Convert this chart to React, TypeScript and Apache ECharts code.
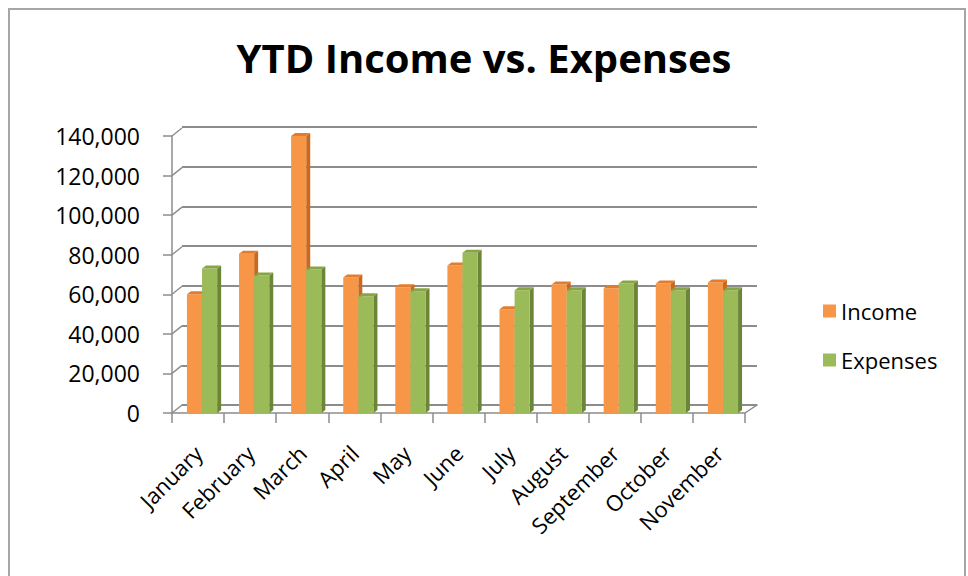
import React, { useEffect, useRef } from "react";
import * as echarts from "echarts";

const categories = [
  "January", "February", "March", "April", "May", "June",
  "July", "August", "September", "October", "November",
];
const income = [60000, 80500, 140000, 68500, 63500, 74500, 52500, 65000, 63000, 65500, 66000];
const expenses = [73000, 69500, 72500, 59000, 61500, 81000, 62000, 62000, 65500, 62000, 62000];
const yTicks = [0, 20000, 40000, 60000, 80000, 100000, 120000, 140000];

const FONT = "'Open Sans', sans-serif";
const GRID_LINE = "#8c8c8c";

const barFaces: Record<string, { front: string; side: string; top: string }> = {
  Income: { front: "#F79646", side: "#C9691F", top: "#E27C2E" },
  Expenses: { front: "#9BBB59", side: "#6B8636", top: "#87A546" },
};

function makeBarRender(name: string, slot: number) {
  const c = barFaces[name];
  return (params: any, api: any) => {
    const idx = api.value(0);
    const val = api.value(1);
    const [cx, cy] = api.coord([idx, val]);
    const [, y0] = api.coord([idx, 0]);
    const band = api.size([1, 0])[0];
    const w = band * 0.29;
    const x0 = cx + 4 - w + slot * w;
    const dx = 4;
    const dy = 3;
    return {
      type: "group",
      children: [
        {
          type: "polygon",
          shape: {
            points: [
              [x0 + w, cy],
              [x0 + w + dx, cy - dy],
              [x0 + w + dx, y0 - dy],
              [x0 + w, y0],
            ],
          },
          style: { fill: c.side },
        },
        {
          type: "rect",
          shape: { x: x0, y: cy, width: w, height: y0 - cy },
          style: { fill: c.front },
        },
        {
          type: "polygon",
          shape: {
            points: [
              [x0, cy],
              [x0 + dx, cy - dy],
              [x0 + w + dx, cy - dy],
              [x0 + w, cy],
            ],
          },
          style: { fill: c.top },
        },
      ],
    };
  };
}

function frameRender(params: any, api: any) {
  const v = api.value(1);
  const [x, y] = api.coord([0, v]);
  const band = api.size([1, 0])[0];
  const left = x - band / 2;
  const children: any[] = [
    {
      type: "line",
      shape: { x1: left, y1: y, x2: left + 10, y2: y - 8 },
      style: { stroke: GRID_LINE, lineWidth: 1.5 },
    },
  ];
  if (v === 0) {
    const right = left + band * categories.length;
    children.push({
      type: "line",
      shape: { x1: right, y1: y, x2: right + 12, y2: y - 8 },
      style: { stroke: GRID_LINE, lineWidth: 1.5 },
    });
  }
  return { type: "group", children };
}

export default function App() {
  const ref = useRef<HTMLDivElement>(null);

  useEffect(() => {
    if (!ref.current) return;
    const chart = echarts.init(ref.current, null, { renderer: "svg" });
    const option: any = {
      animation: false,
      backgroundColor: "#ffffff",
      color: ["#F79646", "#9BBB59"],
      title: {
        text: "YTD Income vs. Expenses",
        left: "center",
        top: 32,
        textStyle: {
          fontFamily: FONT,
          fontWeight: "bold",
          fontSize: 40,
          color: "#000000",
        },
      },
      legend: {
        data: ["Income", "Expenses"],
        orient: "vertical",
        left: 818,
        top: 294,
        itemWidth: 13,
        itemHeight: 13,
        itemGap: 25,
        icon: "rect",
        textStyle: { fontFamily: FONT, fontSize: 22, color: "#000000", lineHeight: 24 },
      },
      grid: [
        { left: 172, top: 136, width: 573, height: 277 },
        { left: 182, top: 127, width: 575, height: 278 },
      ],
      xAxis: [
        {
          type: "category",
          gridIndex: 0,
          data: categories,
          axisLine: { show: true, lineStyle: { color: GRID_LINE, width: 1.5 } },
          axisTick: { show: true, interval: 0, length: 10, alignWithLabel: false, lineStyle: { color: GRID_LINE, width: 1.5 } },
          axisLabel: {
            interval: 0,
            rotate: 45,
            margin: 36,
            fontFamily: FONT,
            fontSize: 22,
            color: "#000000",
          },
          splitLine: { show: false },
        },
        {
          type: "category",
          gridIndex: 1,
          data: categories,
          axisLine: { show: true, lineStyle: { color: GRID_LINE, width: 1.5 } },
          axisTick: { show: false },
          axisLabel: { show: false },
          splitLine: { show: false },
        },
      ],
      yAxis: [
        {
          type: "value",
          gridIndex: 0,
          min: 0,
          max: 140000,
          interval: 20000,
          axisLine: { show: true, lineStyle: { color: GRID_LINE, width: 1.5 } },
          axisTick: { show: true, length: 9, lineStyle: { color: GRID_LINE, width: 1.5 } },
          axisLabel: {
            margin: 32,
            fontFamily: FONT,
            fontSize: 23,
            color: "#000000",
            formatter: (v: number) => v.toLocaleString("en-US"),
          },
          splitLine: { show: false },
        },
        {
          type: "value",
          gridIndex: 1,
          min: 0,
          max: 140000,
          interval: 20000,
          axisLine: { show: false },
          axisTick: { show: false },
          axisLabel: { show: false },
          splitLine: { show: true, lineStyle: { color: GRID_LINE, width: 2 } },
        },
      ],
      graphic: [
        {
          type: "rect",
          shape: { x: 9, y: 9, width: 956, height: 620 },
          style: { fill: "none", stroke: "#a6a6a6", lineWidth: 2 },
          silent: true,
        },
      ],
      series: [
        {
          name: "frame",
          type: "custom",
          xAxisIndex: 0,
          yAxisIndex: 0,
          clip: false,
          silent: true,
          data: yTicks.map((v) => [0, v]),
          renderItem: frameRender,
          z: 1,
        },
        {
          name: "Income",
          type: "custom",
          xAxisIndex: 0,
          yAxisIndex: 0,
          clip: false,
          itemStyle: { color: "#F79646" },
          data: income.map((v, i) => [i, v]),
          renderItem: makeBarRender("Income", 0),
          z: 3,
        },
        {
          name: "Expenses",
          type: "custom",
          xAxisIndex: 0,
          yAxisIndex: 0,
          clip: false,
          itemStyle: { color: "#9BBB59" },
          data: expenses.map((v, i) => [i, v]),
          renderItem: makeBarRender("Expenses", 1),
          z: 4,
        },
      ],
    };
    chart.setOption(option);
    return () => {
      chart.dispose();
    };
  }, []);

  return (
    <div
      ref={ref}
      style={{ position: "fixed", left: 0, top: 0, width: 968, height: 576 }}
    />
  );
}
